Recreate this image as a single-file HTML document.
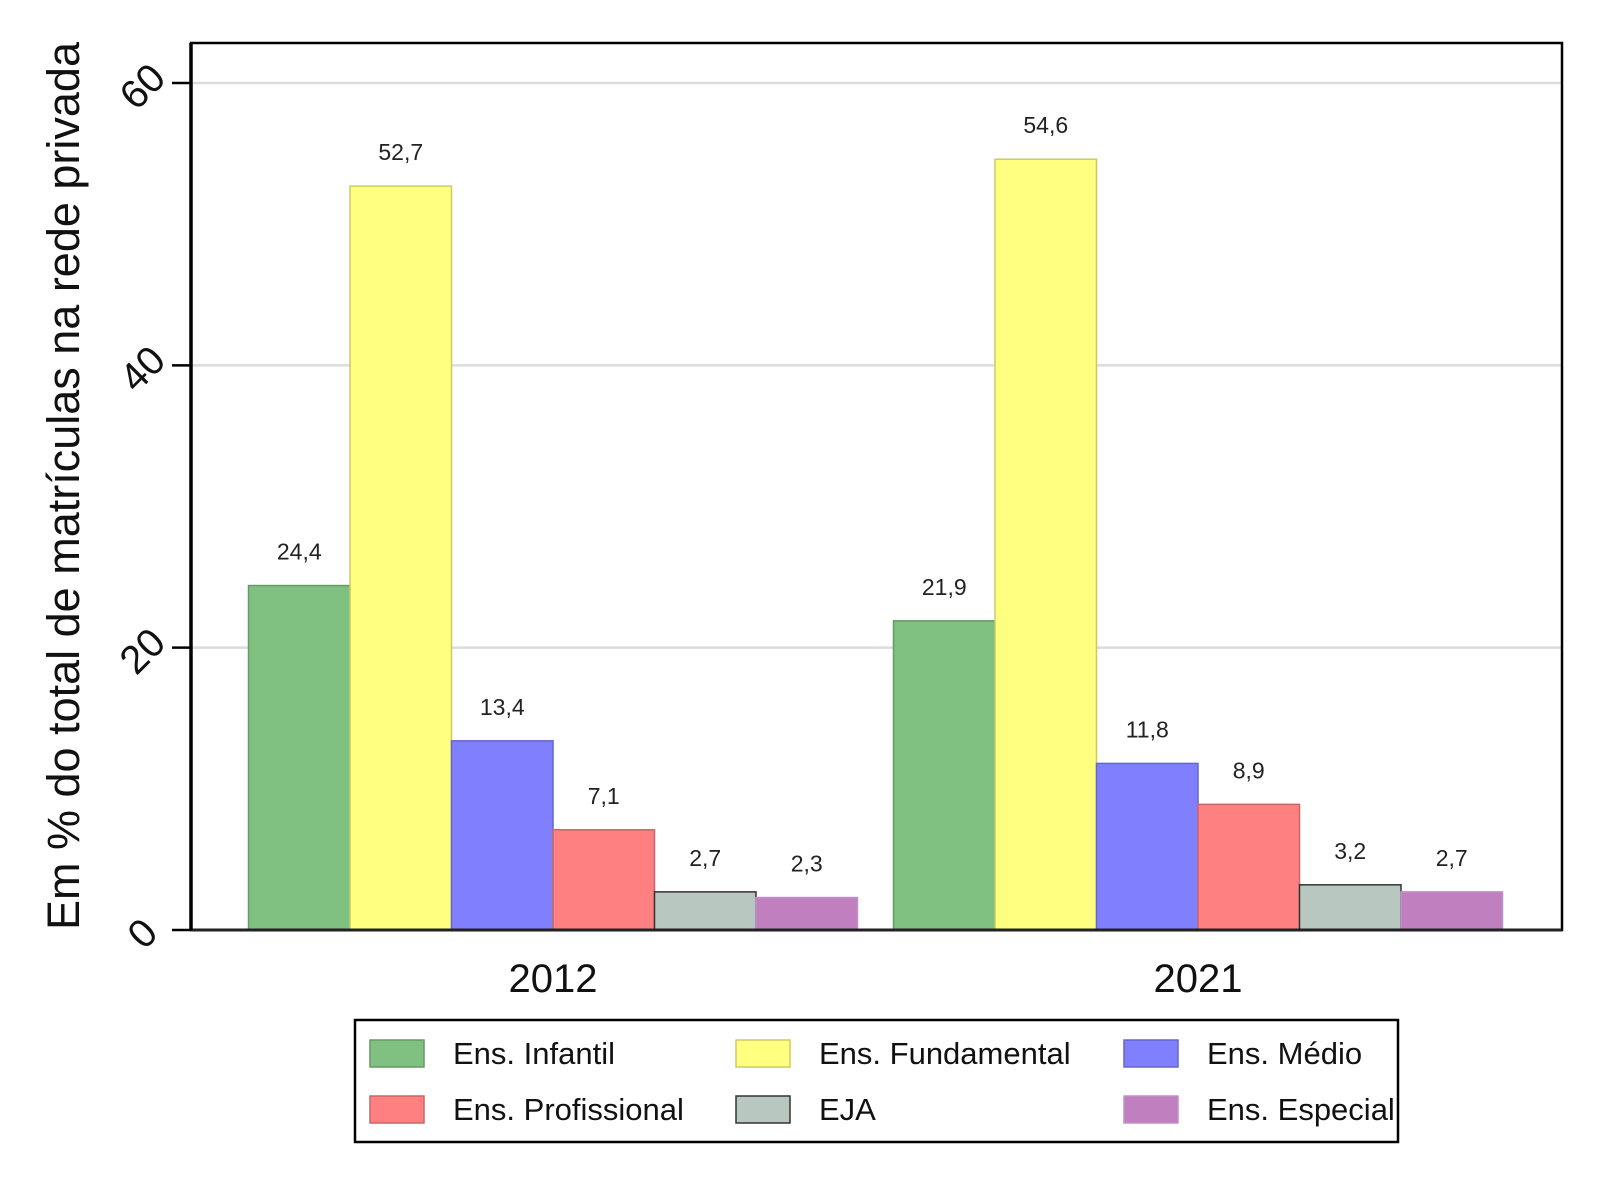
<!DOCTYPE html>
<html><head><meta charset="utf-8"><style>
html,body{margin:0;padding:0;background:#fff;}
svg{display:block;font-family:"Liberation Sans",sans-serif;}
</style></head><body>
<svg id="chart" width="1600" height="1200" xmlns="http://www.w3.org/2000/svg">
<g id="grid"></g>
<g id="bars"></g>
<g id="labels"></g>
<rect x="191" y="43" width="1371" height="887" fill="none" stroke="#000" stroke-width="2.5"/>
<line x1="191" y1="930" x2="1562" y2="930" stroke="#222" stroke-width="3"/>
<line x1="191" y1="43" x2="191" y2="930" stroke="#000" stroke-width="3.5"/>
<g id="yticks"></g>
<g id="xticks"></g>
<text transform="translate(79,486) rotate(-90)" text-anchor="middle" font-size="45" fill="#111">Em % do total de matrículas na rede privada</text>
<g id="legend">
<rect x="355" y="1020" width="1043" height="122" fill="#fff" stroke="#000" stroke-width="2.5"/>
</g>
</svg>
<script>
const categories = ["2012", "2021"];
const seriesNames = ["Ens. Infantil", "Ens. Fundamental", "Ens. Médio", "Ens. Profissional", "EJA", "Ens. Especial"];
const infantil = [24.4, 21.9];
const fundamental = [52.7, 54.6];
const medio = [13.4, 11.8];
const profissional = [7.1, 8.9];
const eja = [2.7, 3.2];
const especial = [2.3, 2.7];
const yTicks = [0, 20, 40, 60];
const series = [infantil, fundamental, medio, profissional, eja, especial];
const colors = ["#80c080", "#ffff80", "#8080ff", "#ff8080", "#b8c8c0", "#c080c0"];
const strokes = ["#669966", "#cccc66", "#6666cc", "#cc6666", "#333", "#c090c8"];

const NS = "http://www.w3.org/2000/svg";
const x0 = 191, x1 = 1562, yBase = 930, y60 = 83;
const yScale = v => yBase - v * (yBase - y60) / 60;
const groupCenters = [553, 1198];
const xScale = i => groupCenters[i];
const barW = 101.5;
function mk(tag, attrs, parent) {
  const e = document.createElementNS(NS, tag);
  for (const k in attrs) e.setAttribute(k, attrs[k]);
  parent.appendChild(e);
  return e;
}
const fmt = v => v.toFixed(1).replace('.', ',');

const grid = document.getElementById('grid');
const yt = document.getElementById('yticks');
yTicks.forEach(t => {
  const y = yScale(t);
  if (t > 0) {
    const g = mk('line', {x1: x0, x2: x1, y1: y, y2: y, stroke: '#dcdcdc', 'stroke-width': 2.5}, grid);
    
    
  }
  const tk = mk('line', {x1: 172, x2: 191, y1: y, y2: y, stroke: '#000', 'stroke-width': 2.5}, yt);
  
  
  const lb = mk('text', {transform: `translate(${152},${y + 13}) rotate(-45)`, 'text-anchor': 'middle', 'font-size': 40, fill: '#111'}, yt);
  lb.textContent = String(t);
  
  
});

const bars = document.getElementById('bars');
const labels = document.getElementById('labels');
categories.forEach((c, ci) => {
  const start = xScale(ci) - barW * series.length / 2;
  series.forEach((s, si) => {
    const v = s[ci];
    const x = start + si * barW;
    const y = yScale(v);
    const r = mk('rect', {x: x, y: y, width: barW, height: yBase - y, fill: colors[si], stroke: strokes[si], 'stroke-width': 1.5}, bars);
    
    
    const t = mk('text', {x: x + barW / 2, y: y - 26, 'text-anchor': 'middle', 'font-size': 23, fill: '#222'}, labels);
    t.textContent = fmt(v);
    
    
  });
  const xl = mk('text', {x: xScale(ci), y: 992, 'text-anchor': 'middle', 'font-size': 40, fill: '#111'}, document.getElementById('xticks'));
  xl.textContent = c;
  
  
});

const legend = document.getElementById('legend');
const colX = [370, 736, 1124];
const rowY = [1053, 1109];
seriesNames.forEach((n, i) => {
  const cx = colX[i % 3], cy = rowY[Math.floor(i / 3)];
  const sw = mk('rect', {x: cx, y: cy - 13, width: 54, height: 27, fill: colors[i], stroke: i === 4 ? '#333' : strokes[i], 'stroke-width': 1.5}, legend);
  
  
  const t = mk('text', {x: cx + 83, y: cy + 11, 'font-size': 31, fill: '#111'}, legend);
  t.textContent = n;
  
  
});
</script>
</body></html>
